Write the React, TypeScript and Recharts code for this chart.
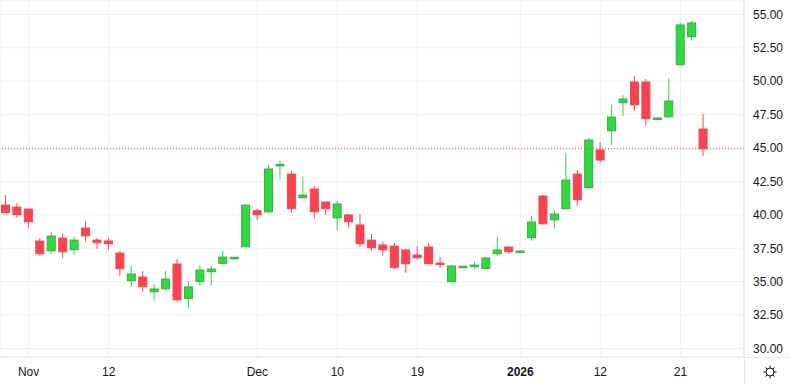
import { ComposedChart, Bar, XAxis, YAxis, CartesianGrid, ReferenceLine } from 'recharts';

// trading days, Oct 30 2025 .. Jan 23 2026
const dates = [
  "2025-10-30", "2025-10-31",
  "2025-11-03", "2025-11-04", "2025-11-05", "2025-11-06", "2025-11-07",
  "2025-11-10", "2025-11-11", "2025-11-12", "2025-11-13", "2025-11-14",
  "2025-11-17", "2025-11-18", "2025-11-19", "2025-11-20", "2025-11-21",
  "2025-11-24", "2025-11-25", "2025-11-26", "2025-11-27", "2025-11-28",
  "2025-12-01", "2025-12-02", "2025-12-03", "2025-12-04", "2025-12-05",
  "2025-12-08", "2025-12-09", "2025-12-10", "2025-12-11", "2025-12-12",
  "2025-12-15", "2025-12-16", "2025-12-17", "2025-12-18", "2025-12-19",
  "2025-12-22", "2025-12-23", "2025-12-24", "2025-12-25", "2025-12-26",
  "2025-12-29", "2025-12-30", "2025-12-31", "2026-01-01", "2026-01-02",
  "2026-01-05", "2026-01-06", "2026-01-07", "2026-01-08", "2026-01-09",
  "2026-01-12", "2026-01-13", "2026-01-14", "2026-01-15", "2026-01-16",
  "2026-01-19", "2026-01-20", "2026-01-21", "2026-01-22", "2026-01-23",
];

const opens = [
  40.73, 40.58, 40.43, 38.04, 37.31, 38.26, 37.39, 39.01, 38.11, 38.04,
  37.14, 35.07, 35.34, 34.24, 34.47, 36.32, 33.75, 35.02, 35.74, 36.37,
  36.82, 37.61, 40.31, 40.23, 43.68, 43.05, 41.28, 41.93, 40.96, 39.78,
  39.99, 39.24, 38.11, 37.74, 37.66, 37.37, 36.99, 37.59, 36.39, 34.99,
  36.15, 36.12, 35.99, 37.09, 37.59, 37.29, 38.29, 41.41, 39.63, 40.46,
  43.05, 42.03, 44.85, 46.29, 48.39, 49.94, 49.94, 47.25, 47.34, 51.24,
  53.33, 46.42,
];
const highs = [
  41.48, 40.88, 40.45, 38.26, 38.73, 38.59, 38.36, 39.54, 38.26, 38.26,
  37.29, 36.17, 35.79, 34.82, 35.79, 36.69, 35.04, 36.24, 36.17, 37.31,
  36.84, 40.78, 40.46, 43.73, 44.03, 43.28, 42.85, 42.16, 40.98, 41.03,
  40.06, 40.06, 38.56, 37.99, 37.89, 37.46, 37.66, 37.89, 36.84, 36.24,
  36.17, 36.54, 36.84, 38.34, 37.61, 37.31, 39.91, 41.48, 40.36, 44.63,
  43.35, 45.75, 45.45, 48.22, 48.97, 50.39, 50.16, 47.27, 50.24, 54.36,
  54.51, 47.54,
];
const lows = [
  40.14, 39.78, 39.03, 36.94, 37.09, 36.79, 37.01, 37.99, 37.46, 37.39,
  35.44, 34.62, 34.24, 33.57, 34.32, 33.49, 32.97, 34.69, 34.69, 36.24,
  36.80, 37.58, 39.61, 40.11, 42.63, 40.16, 41.25, 39.69, 39.99, 38.86,
  39.03, 37.61, 37.31, 36.94, 35.94, 35.67, 36.71, 36.31, 36.04, 34.97,
  36.13, 35.89, 35.89, 36.94, 37.09, 37.27, 38.06, 39.26, 38.96, 40.43,
  40.68, 41.95, 43.88, 45.22, 47.40, 47.79, 46.67, 47.23, 47.27, 51.16,
  53.03, 44.42,
];
const closes = [
  40.16, 40.01, 39.48, 37.09, 38.41, 37.24, 38.11, 38.44, 37.91, 37.84,
  35.97, 35.57, 34.62, 34.45, 35.19, 33.64, 34.60, 35.87, 35.94, 36.84,
  36.82, 40.73, 40.01, 43.43, 43.78, 40.46, 41.48, 40.23, 40.46, 40.81,
  39.48, 37.84, 37.54, 37.39, 36.04, 36.34, 36.79, 36.34, 36.32, 36.17,
  36.15, 36.24, 36.77, 37.37, 37.24, 37.29, 39.46, 39.33, 40.06, 42.60,
  41.13, 45.60, 44.10, 47.32, 48.67, 48.24, 47.19, 47.25, 48.52, 54.21,
  54.36, 44.95,
];

const tickDates = ["2025-11-03", "2025-11-12", "2025-12-01", "2025-12-10", "2025-12-19", "2026-01-01", "2026-01-12", "2026-01-21"];
const tickLabels = ["Nov", "12", "Dec", "10", "19", "2026", "12", "21"];
const priceTicks = [30, 32.5, 35, 37.5, 40, 42.5, 45, 47.5, 50, 52.5, 55];

const data = dates.map((date, i) => ({
  date,
  open: opens[i],
  high: highs[i],
  low: lows[i],
  close: closes[i],
  range: [lows[i], highs[i]],
}));

const lastClose = closes[closes.length - 1];

const UP = "#2fd940";
const UP_BORDER = "#3caa46";
const DOWN = "#f74450";
const FONT = '"Liberation Sans", Arial, sans-serif';

function Candle(props: any) {
  const { x, y, width, height, payload } = props;
  const { open, close, high, low } = payload;
  const up = close >= open;
  const h = Math.abs(height);
  const ratio = high === low ? 0 : h / (high - low);
  const yOf = (v: number) => y + (high - v) * ratio;
  const cx = x + width / 2;
  const top = yOf(Math.max(open, close));
  const bot = yOf(Math.min(open, close));
  const bodyH = Math.max(bot - top, 1.5);
  const col = up ? UP : DOWN;
  return (
    <g>
      <line x1={cx} x2={cx} y1={y} y2={y + h} stroke={col} strokeWidth={1} />
      <rect
        x={x + 0.5}
        y={top}
        width={width - 1}
        height={bodyH}
        fill={col}
        stroke={up ? UP_BORDER : DOWN}
        strokeWidth={1}
      />
    </g>
  );
}

function DateTick({ x, y, payload }: any) {
  const idx = tickDates.indexOf(payload.value);
  const label = idx >= 0 ? tickLabels[idx] : '';
  return (
    <text x={x} y={y + 19} textAnchor="middle" fill="#131722" fontSize={12} fontFamily={FONT} fontWeight={label === '2026' ? 'bold' : 'normal'}>
      {label}
    </text>
  );
}

export default function App() {
  return (
    <div style={{ position: 'absolute', left: 0, top: 0, width: 789, height: 384, background: '#fff' }}>
      <ComposedChart width={789} height={384} data={data} margin={{ top: 0, right: 0, bottom: 0, left: 0 }}>
        <CartesianGrid stroke="#eff0f3" />
        <XAxis
          dataKey="date"
          ticks={tickDates}
          interval={0}
          height={27}
          padding={{ left: 0, right: 35 }}
          axisLine={{ stroke: '#e0e3eb' }}
          tickLine={false}
          tickSize={0}
          tickMargin={0}
          tick={<DateTick />}
        />
        <YAxis
          orientation="right"
          width={45}
          domain={[29.36, 56.08]}
          allowDataOverflow
          ticks={priceTicks}
          tickFormatter={(v: number) => v.toFixed(2)}
          axisLine={{ stroke: '#e0e3eb' }}
          tickLine={false}
          tickSize={0}
          tickMargin={9}
          tick={{ fill: '#131722', fontSize: 12, fontFamily: FONT }}
        />
        <ReferenceLine y={lastClose} stroke={DOWN} strokeDasharray="1 2" />
        <Bar dataKey="range" barSize={9} shape={<Candle />} isAnimationActive={false} />
      </ComposedChart>
      <div style={{ position: 'absolute', left: 744, top: 357, width: 45, height: 27, borderTop: '1px solid #e0e3eb', borderLeft: '1px solid #e0e3eb', boxSizing: 'border-box' }} />
      <svg style={{ position: 'absolute', left: 762, top: 364 }} width={16} height={16} viewBox="0 0 16 16">
        <circle cx={8} cy={8} r={4} fill="none" stroke="#131722" strokeWidth={1} />
        {[0, 45, 90, 135, 180, 225, 270, 315].map((a) => (
          <line
            key={a}
            x1={8 + 4 * Math.cos((a * Math.PI) / 180)}
            y1={8 + 4 * Math.sin((a * Math.PI) / 180)}
            x2={8 + 6.5 * Math.cos((a * Math.PI) / 180)}
            y2={8 + 6.5 * Math.sin((a * Math.PI) / 180)}
            stroke="#131722"
            strokeWidth={1}
          />
        ))}
      </svg>
    </div>
  );
}
